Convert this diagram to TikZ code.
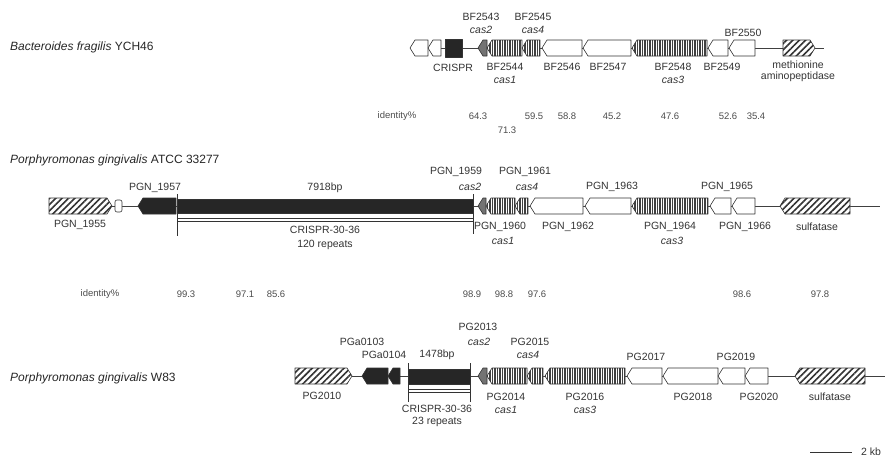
\documentclass[tikz,border=0pt]{standalone}
\usepackage{fontspec}
\setmainfont{Liberation Sans}
\usetikzlibrary{patterns.meta}
\newcommand{\gL}[4]{\path[#1] (#2,#4) -- (#2+5,#4-8) -- (#3,#4-8) -- (#3,#4+8) -- (#2+5,#4+8) -- cycle;}
\newcommand{\gR}[4]{\path[#1] (#2,#4-8) -- (#3-5,#4-8) -- (#3,#4) -- (#3-5,#4+8) -- (#2,#4+8) -- cycle;}
\begin{document}
\begin{tikzpicture}[x=1pt,y=-1pt,
  gene/.style={draw=black!80, line width=0.6pt, fill=white, line join=round},
  blk/.style={gene, fill=black!85},
  cas/.style={gene, preaction={fill=white}, pattern={Lines[angle=90,distance=2.5pt,line width=1.5pt]}, pattern color=black!75},
  casii/.style={gene, fill=black!55},
  hatch/.style={gene, preaction={fill=white}, pattern={Lines[angle=45,distance=4.5pt,line width=1.6pt]}, pattern color=black!80},
  bb/.style={draw=black!75, line width=0.7pt},
  tick/.style={draw=black!80, line width=0.6pt},
  lbl/.style={font=\fontsize{10.5}{11}\selectfont, text=black!80, inner sep=0pt},
  cl/.style={lbl, font=\fontsize{10.5}{11}\selectfont\itshape},
  idl/.style={font=\fontsize{9.5}{10}\selectfont, text=black!70, inner sep=0pt},
  ttl/.style={font=\fontsize{12}{13}\selectfont\itshape, text=black!85, inner sep=0pt, anchor=west}]
\useasboundingbox (0,0) rectangle (888,464);

% ---------------- Row 1 : Bacteroides fragilis YCH46
\node[ttl] (t1) at (10,47) {Bacteroides fragilis \upshape YCH46};
\draw[bb] (412,48) -- (824,48);
\gL{gene}{410}{428}{48}
\gL{gene}{428}{441}{48}
\path[blk] (445,39) rectangle (462,57);
\gL{casii}{478}{487}{48}
\gL{cas}{487}{522}{48}
\gL{cas}{522}{540}{48}
\gL{gene}{542}{582}{48}
\gL{gene}{583}{631}{48}
\gL{cas}{632}{707}{48}
\gL{gene}{708}{728}{48}
\gL{gene}{729}{755}{48}
\gR{hatch}{783}{815}{48}
\node[lbl] (a1) at (481,17) {BF2543};
\node[cl]  (a2) at (481,30) {cas2};
\node[lbl] (a3) at (533,17) {BF2545};
\node[cl]  (a4) at (533,30) {cas4};
\node[lbl] (a5) at (453,68) {CRISPR};
\node[lbl] (a6) at (505,67) {BF2544};
\node[cl]  (a7) at (505,80) {cas1};
\node[lbl] (a8) at (562,67) {BF2546};
\node[lbl] (a9) at (608,67) {BF2547};
\node[lbl] (a10) at (673,67) {BF2548};
\node[cl]  (a11) at (673,80) {cas3};
\node[lbl] (a12) at (722,67) {BF2549};
\node[lbl] (a13) at (743,33) {BF2550};
\node[lbl] (a14) at (798,65) {methionine};
\node[lbl] (a15) at (798,77) {aminopeptidase};

% identity row 1
\node[idl] (i1) at (397,116) {identity\%};
\node[idl] (i2) at (478,116) {64.3};
\node[idl] (i3) at (507,130) {71.3};
\node[idl] (i4) at (534,116) {59.5};
\node[idl] (i5) at (567,116) {58.8};
\node[idl] (i6) at (612,116) {45.2};
\node[idl] (i7) at (670,116) {47.6};
\node[idl] (i8) at (728,116) {52.6};
\node[idl] (i9) at (756,116) {35.4};

% ---------------- Row 2 : P. gingivalis ATCC 33277
\node[ttl] (t2) at (10,160) {Porphyromonas gingivalis \upshape ATCC 33277};
\draw[bb] (50,206) -- (880,206);
\gR{hatch}{49}{112}{206}
\path[gene, rounded corners=2pt] (115,200) rectangle (122,212);
\gL{blk}{138}{176}{206}
\path[blk] (177,199) rectangle (473,213);
\path[gene] (177,218) rectangle (473,221.5);
\draw[tick] (177,194) -- (177,236);
\draw[tick] (473,194) -- (473,234);
\gL{casii}{478}{486}{206}
\gL{cas}{486}{515}{206}
\gL{cas}{515}{528}{206}
\gL{gene}{530}{583}{206}
\gL{gene}{585}{631}{206}
\gL{cas}{632}{708}{206}
\gL{gene}{710}{731}{206}
\gL{gene}{732}{755}{206}
\gL{hatch}{780}{850}{206}
\node[lbl] (b1) at (155,188) {PGN\_1957};
\node[lbl] (b2) at (80,225) {PGN\_1955};
\node[lbl] (b3) at (325,188) {7918bp};
\node[lbl] (b4) at (325,230) {CRISPR-30-36};
\node[lbl] (b5) at (325,245) {120 repeats};
\node[lbl] (b6) at (456,172) {PGN\_1959};
\node[cl]  (b7) at (470,187) {cas2};
\node[lbl] (b8) at (525,172) {PGN\_1961};
\node[cl]  (b9) at (527,187) {cas4};
\node[lbl] (b10) at (500,227) {PGN\_1960};
\node[cl]  (b11) at (503,241) {cas1};
\node[lbl] (b12) at (568,227) {PGN\_1962};
\node[lbl] (b13) at (612,187) {PGN\_1963};
\node[lbl] (b14) at (670,227) {PGN\_1964};
\node[cl]  (b15) at (672,241) {cas3};
\node[lbl] (b16) at (727,187) {PGN\_1965};
\node[lbl] (b17) at (745,227) {PGN\_1966};
\node[lbl] (b18) at (817,227) {sulfatase};

% identity row 2
\node[idl] (j1) at (100,294) {identity\%};
\node[idl] (j2) at (186,294) {99.3};
\node[idl] (j3) at (245,294) {97.1};
\node[idl] (j4) at (276,294) {85.6};
\node[idl] (j5) at (472,294) {98.9};
\node[idl] (j6) at (504,294) {98.8};
\node[idl] (j7) at (537,294) {97.6};
\node[idl] (j8) at (742,294) {98.6};
\node[idl] (j9) at (820,294) {97.8};

% ---------------- Row 3 : P. gingivalis W83
\node[ttl] (t3) at (10,378) {Porphyromonas gingivalis \upshape W83};
\draw[bb] (296,376) -- (885,376);
\gR{hatch}{295}{352}{376}
\gL{blk}{362}{388}{376}
\gL{blk}{388}{400}{376}
\path[blk] (408,369) rectangle (470,384);
\path[gene] (408,389) rectangle (470,392.5);
\draw[tick] (408,363) -- (408,402);
\draw[tick] (470,363) -- (470,402);
\gL{casii}{478}{487}{376}
\gL{cas}{487}{527}{376}
\gL{cas}{527}{543}{376}
\gL{cas}{545}{625}{376}
\gL{gene}{627}{662}{376}
\gL{gene}{663}{718}{376}
\gL{gene}{718}{745}{376}
\gL{gene}{745}{768}{376}
\gL{hatch}{795}{865}{376}
\node[lbl] (c1) at (362,342) {PGa0103};
\node[lbl] (c2) at (384,355) {PGa0104};
\node[lbl] (c3) at (437,355) {1478bp};
\node[lbl] (c4) at (478,327) {PG2013};
\node[cl]  (c5) at (479,342) {cas2};
\node[lbl] (c6) at (530,342) {PG2015};
\node[cl]  (c7) at (528,355) {cas4};
\node[lbl] (c8) at (322,396) {PG2010};
\node[lbl] (c9) at (437,409) {CRISPR-30-36};
\node[lbl] (c10) at (437,422) {23 repeats};
\node[lbl] (c11) at (506,397) {PG2014};
\node[cl]  (c12) at (506,410) {cas1};
\node[lbl] (c13) at (585,397) {PG2016};
\node[cl]  (c14) at (585,410) {cas3};
\node[lbl] (c15) at (646,357) {PG2017};
\node[lbl] (c16) at (693,397) {PG2018};
\node[lbl] (c17) at (736,357) {PG2019};
\node[lbl] (c18) at (759,397) {PG2020};
\node[lbl] (c19) at (830,397) {sulfatase};

% scale bar
\coordinate (s1) at (810,452);
\coordinate (s2) at (852,452);
\draw[line width=0.9pt, black!80] (s1) -- (s2);
\node[lbl] (s3) at (871,452) {2 kb};
\end{tikzpicture}
\end{document}
